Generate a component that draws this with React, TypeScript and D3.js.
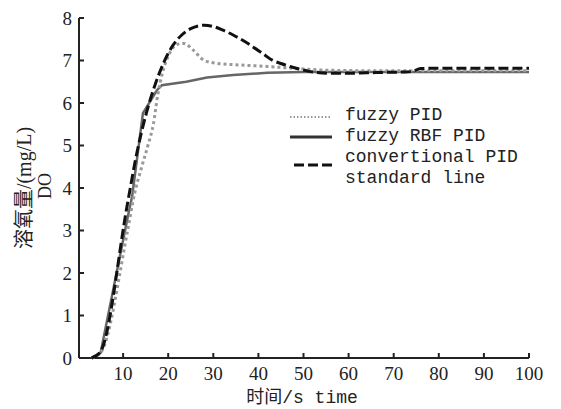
import * as React from 'react';
import * as d3 from 'd3';

// fuzzy PID (gray dotted)
const fuzzyT = [3, 5, 11, 12.5, 14, 15.5, 16.7, 17.7, 18.7, 20, 22, 23.5, 25.5, 28, 31, 35, 42, 50, 56, 65, 80, 100];
const fuzzyV = [0, 0.12, 3.0, 3.85, 4.45, 5.0, 5.5, 6.2, 6.7, 7.1, 7.38, 7.4, 7.25, 7.0, 6.93, 6.9, 6.86, 6.8, 6.77, 6.76, 6.76, 6.76];

// fuzzy RBF PID (dark gray solid)
const rbfT = [3, 5, 11, 12, 14.4, 17.5, 18.6, 24, 28.6, 34.4, 42, 50, 60, 100];
const rbfV = [0, 0.12, 3.3, 3.8, 5.76, 6.3, 6.42, 6.5, 6.6, 6.66, 6.71, 6.73, 6.73, 6.73];

// conventional PID (black dashed)
const convT = [3, 5, 11, 13, 15, 17, 19, 21, 23, 25, 28, 30, 32, 34.4, 36.6, 38.8, 41, 43.2, 45, 47, 49, 51, 53, 56, 60, 64, 68, 72, 74, 76, 80, 90, 100];
const convV = [0, 0.15, 3.65, 4.8, 5.7, 6.4, 6.95, 7.35, 7.6, 7.75, 7.83, 7.8, 7.72, 7.6, 7.47, 7.32, 7.16, 7.0, 6.93, 6.86, 6.8, 6.75, 6.72, 6.7, 6.7, 6.71, 6.72, 6.73, 6.74, 6.81, 6.82, 6.82, 6.82];

const xTicks = [10, 20, 30, 40, 50, 60, 70, 80, 90, 100];
const yTicks = [0, 1, 2, 3, 4, 5, 6, 7, 8];
const legendLabels = ['fuzzy PID', 'fuzzy RBF PID', 'convertional PID', 'standard line'];

export default function App() {
  const ref = React.useRef<SVGSVGElement>(null);

  React.useEffect(() => {
    const svg = d3.select(ref.current);
    svg.selectAll('*').remove();

    const x = d3.scaleLinear().domain([0, 100]).range([78, 529]);
    const y = d3.scaleLinear().domain([0, 8]).range([358, 18]);

    const serif = '"Liberation Serif", "Times New Roman", serif';
    const mono = '"Liberation Mono", "Noto Sans CJK SC", monospace';

    // axes
    const ax = svg.append('g').attr('stroke', '#222').attr('stroke-width', 2).attr('fill', 'none');
    ax.append('line').attr('x1', 79).attr('x2', 79).attr('y1', y(8)).attr('y2', y(0));
    ax.append('line').attr('x1', 79).attr('x2', x(100)).attr('y1', y(0)).attr('y2', y(0));
    xTicks.forEach(t => {
      ax.append('line').attr('x1', x(t)).attr('x2', x(t)).attr('y1', y(0)).attr('y2', y(0) - 5);
    });
    yTicks.forEach(t => {
      ax.append('line').attr('x1', 79).attr('x2', 84).attr('y1', y(t)).attr('y2', y(t));
    });

    svg.append('g').selectAll('text').data(xTicks).join('text')
      .attr('x', d => x(d)).attr('y', 380)
      .attr('text-anchor', 'middle')
      .attr('font-family', serif).attr('font-size', 19).attr('fill', '#222')
      .text(d => d);
    svg.append('g').selectAll('text').data(yTicks).join('text')
      .attr('x', 72).attr('y', d => y(d))
      .attr('text-anchor', 'end').attr('dominant-baseline', 'central')
      .attr('font-family', serif).attr('font-size', 19).attr('fill', '#222')
      .text(d => d);

    // axis titles
    svg.append('text')
      .attr('x', 302).attr('y', 403)
      .attr('text-anchor', 'middle')
      .attr('font-family', mono).attr('font-size', 18).attr('fill', '#222')
      .text('时间/s time');
    svg.append('text')
      .attr('transform', 'translate(24,188) rotate(-90)')
      .attr('text-anchor', 'middle').attr('dominant-baseline', 'central')
      .attr('font-family', '"Liberation Serif", "Noto Sans CJK SC", serif').attr('font-size', 20).attr('fill', '#222')
      .text('溶氧量/(mg/L)');
    svg.append('text')
      .attr('transform', 'translate(45,186) rotate(-90)')
      .attr('text-anchor', 'middle').attr('dominant-baseline', 'central')
      .attr('font-family', serif).attr('font-size', 18).attr('fill', '#222')
      .text('DO');

    const line = d3.line<[number, number]>()
      .x(d => x(d[0]))
      .y(d => y(d[1]))
      .curve(d3.curveMonotoneX);

    const zip = (ts: number[], vs: number[]) => ts.map((t, i) => [t, vs[i]] as [number, number]);

    svg.append('path').datum(zip(rbfT, rbfV))
      .attr('fill', 'none').attr('stroke', '#666').attr('stroke-width', 2.5)
      .attr('d', d3.line<[number, number]>().x(d => x(d[0])).y(d => y(d[1])));
    svg.append('path').datum(zip(fuzzyT, fuzzyV))
      .attr('fill', 'none').attr('stroke', '#999').attr('stroke-width', 3)
      .attr('stroke-dasharray', '3,3')
      .attr('d', line);
    svg.append('path').datum(zip(convT, convV))
      .attr('fill', 'none').attr('stroke', '#111').attr('stroke-width', 3)
      .attr('stroke-dasharray', '10,4')
      .attr('d', line);

    // legend
    const lg = svg.append('g');
    lg.append('line').attr('x1', 290).attr('x2', 332).attr('y1', 117).attr('y2', 117)
      .attr('stroke', '#999').attr('stroke-width', 2).attr('stroke-dasharray', '1.5,2');
    lg.append('line').attr('x1', 290).attr('x2', 332).attr('y1', 137).attr('y2', 137)
      .attr('stroke', '#333').attr('stroke-width', 3);
    lg.append('line').attr('x1', 294).attr('x2', 332).attr('y1', 165).attr('y2', 165)
      .attr('stroke', '#111').attr('stroke-width', 3).attr('stroke-dasharray', '10,4');
    lg.selectAll('text').data(legendLabels).join('text')
      .attr('x', 345).attr('y', (d, i) => 115 + i * 21)
      .attr('dominant-baseline', 'central')
      .attr('font-family', mono).attr('font-size', 18).attr('fill', '#222')
      .text(d => d);
  }, []);

  return (
    <svg ref={ref} width={561} height={409}
      style={{ position: 'absolute', left: 0, top: 0, background: '#fff' }} />
  );
}
